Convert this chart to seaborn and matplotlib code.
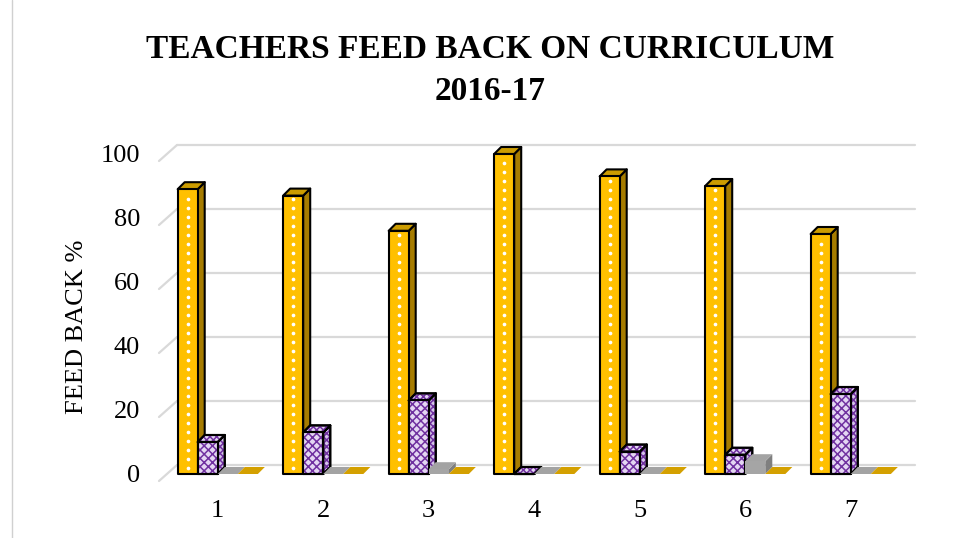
import numpy as np
import pandas as pd
import matplotlib
matplotlib.use("Agg")
import matplotlib.pyplot as plt
import seaborn as sns
from matplotlib.patches import Polygon, Rectangle
from matplotlib.lines import Line2D

# ---- data -------------------------------------------------------------
categories = ["1", "2", "3", "4", "5", "6", "7"]
series_names = ["Series1", "Series2", "Series3", "Series4"]
series1 = [89, 87, 76, 100, 93, 90, 75]
series2 = [10, 13, 23, 0, 7, 6, 25]
series3 = [0, 0, 1.5, 0, 0, 4, 0]
series4 = [0, 0, 0, 0, 0, 0, 0]
yticks = [0, 20, 40, 60, 80, 100]

title_line1 = "TEACHERS FEED BACK ON CURRICULUM"
title_line2 = "2016-17"
ylabel = "FEED BACK %"

df = pd.DataFrame({
    "category": categories * 4,
    "series": np.repeat(series_names, len(categories)),
    "value": series1 + series2 + series3 + series4,
})

# ---- style ------------------------------------------------------------
sns.set_theme(style="white")
plt.rcParams["font.family"] = ["Liberation Serif", "DejaVu Serif"]
plt.rcParams["hatch.linewidth"] = 1.1

W, H = 954, 538
fig = plt.figure(figsize=(W / 100, H / 100), dpi=100)
fig.patch.set_facecolor("white")
ax = fig.add_axes([165 / W, (H - 474) / H, 738.5 / W, 320 / H])

front = {"Series1": "#FFC000", "Series2": "#E4D6F3",
         "Series3": "#A5A5A5", "Series4": "#FFC000"}
side = {"Series1": "#A67C00", "Series2": "#D5C3EA",
        "Series3": "#7F7F7F", "Series4": "#A67C00"}
top = {"Series1": "#CC9C00", "Series2": "#E4D6F3",
       "Series3": "#A3A3A3", "Series4": "#D4A000"}
outlined = {"Series1": True, "Series2": True, "Series3": False, "Series4": False}
hatched = {"Series2": "#7030A0"}

sns.barplot(data=df, x="category", y="value", hue="series",
            order=categories, hue_order=series_names,
            palette=front, saturation=1, width=0.76, dodge=True,
            errorbar=None, legend=False, ax=ax)

ax.set_xlim(-0.5, len(categories) - 0.5)
ax.set_ylim(0, 100)
for s in ax.spines.values():
    s.set_visible(False)
ax.set_facecolor("white")

# pixel -> data conversions for the depth effect
bbox = ax.get_window_extent()
px_x = (ax.get_xlim()[1] - ax.get_xlim()[0]) / bbox.width
px_y = (ax.get_ylim()[1] - ax.get_ylim()[0]) / bbox.height
bar_dx, bar_dy = 7 * px_x, 7 * px_y      # depth of each bar
wall_dx, wall_dy = 12 * px_x, 9 * px_y   # back wall offset
floor_dx, floor_dy = -18 * px_x, -16 * px_y

# back-wall gridlines with their oblique floor connectors
x_lo, x_hi = ax.get_xlim()
for v in yticks:
    ax.add_line(Line2D([x_lo + wall_dx, x_hi + wall_dx], [v + wall_dy, v + wall_dy],
                       color="#D9D9D9", lw=1.6, zorder=0.5, clip_on=False))
    ax.add_line(Line2D([x_lo + wall_dx, x_lo + wall_dx + floor_dx],
                       [v + wall_dy, v + wall_dy + floor_dy],
                       color="#D9D9D9", lw=1.6, zorder=0.5, clip_on=False))

# turn each flat bar into a box: front, right side and top faces
for si, (name, container) in enumerate(zip(series_names, ax.containers)):
    for ci, bar in enumerate(container.patches):
        x0 = bar.get_x()
        w = bar.get_width()
        h = bar.get_height()
        x1 = x0 + w
        z = 2 + ci * 1.0 + si * 0.1
        ec = "black" if outlined[name] else "none"
        lw = 1.5 if outlined[name] else 0

        side_face = Polygon([(x1, 0), (x1 + bar_dx, bar_dy), (x1 + bar_dx, h + bar_dy), (x1, h)],
                            closed=True, facecolor=side[name], edgecolor=ec, lw=lw,
                            joinstyle="round", zorder=z, clip_on=False)
        top_face = Polygon([(x0, h), (x1, h), (x1 + bar_dx, h + bar_dy), (x0 + bar_dx, h + bar_dy)],
                           closed=True, facecolor=top[name], edgecolor=ec, lw=lw,
                           joinstyle="round", zorder=z + 0.01, clip_on=False)
        ax.add_patch(side_face)
        ax.add_patch(top_face)

        bar.set_facecolor(front[name])
        bar.set_edgecolor(ec)
        bar.set_linewidth(lw)
        bar.set_joinstyle("round")
        bar.set_zorder(z + 0.05)
        bar.set_clip_on(False)

        if name in hatched:
            for poly in (side_face, top_face):
                ax.add_patch(Polygon(poly.get_xy(), closed=True, facecolor="none",
                                     edgecolor=hatched[name], lw=0, hatch="xxxxx",
                                     zorder=poly.get_zorder() + 0.001, clip_on=False))
                ax.add_patch(Polygon(poly.get_xy(), closed=True, facecolor="none",
                                     edgecolor="black", lw=1.5, joinstyle="round",
                                     zorder=poly.get_zorder() + 0.002, clip_on=False))
            ax.add_patch(Rectangle((x0, 0), w, h, facecolor="none",
                                   edgecolor=hatched[name], lw=0, hatch="xxxx",
                                   zorder=z + 0.06, clip_on=False))
            ax.add_patch(Rectangle((x0, 0), w, h, facecolor="none",
                                   edgecolor="black", lw=1.5, joinstyle="round",
                                   zorder=z + 0.07, clip_on=False))

        if name == "Series1" and h > 3:
            dots = np.arange(2.0, h - 1.0, 2.8)
            ax.scatter(np.full_like(dots, x0 + w / 2), dots, s=7, color="white",
                       linewidths=0, zorder=z + 0.06, clip_on=False)

# ---- axes text --------------------------------------------------------
ax.set_yticks(yticks)
ax.set_yticklabels([str(t) for t in yticks])
ax.tick_params(axis="y", length=0, pad=18, labelsize=19, labelcolor="black")
ax.tick_params(axis="x", length=0, pad=19, labelsize=19, labelcolor="black")
ax.set_xlabel("")
ax.set_ylabel("")
ax.grid(False)

fig.text(77 / W, 1 - 327 / H, ylabel, rotation=90, ha="center", va="center",
         fontsize=19, color="black")
fig.text(490 / W, 1 - 50 / H, title_line1, ha="center", va="center",
         fontsize=24, fontweight="bold", color="black")
fig.text(490 / W, 1 - 92 / H, title_line2, ha="center", va="center",
         fontsize=24, fontweight="bold", color="black")

# chart area edge on the left
fig.add_artist(Line2D([12 / W, 12 / W], [0, 1], transform=fig.transFigure,
                      color="#D0D0D0", lw=1.0))

fig.savefig("out.png", dpi=100, facecolor="white")
